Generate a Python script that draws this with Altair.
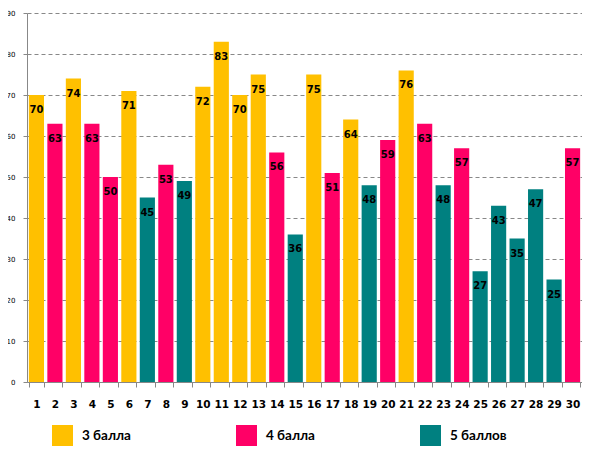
import altair as alt
import pandas as pd

days = [str(i) for i in range(1, 31)]
values = [70, 63, 74, 63, 50, 71, 45, 53, 49, 72, 83, 70, 75, 56, 36,
          75, 51, 64, 48, 59, 76, 63, 48, 57, 27, 43, 35, 47, 25, 57]
grade_codes = ["3", "4", "3", "4", "4", "3", "5", "4", "5", "3", "3", "3", "3", "4", "5",
               "3", "4", "3", "5", "4", "3", "4", "5", "4", "5", "5", "5", "5", "5", "4"]
grade_names = {"3": "3 балла", "4": "4 балла", "5": "5 баллов"}
legend_order = ["3 балла", "4 балла", "5 баллов"]
colors = ["#FFC000", "#FF0066", "#008080"]

df = pd.DataFrame({
    "day": days,
    "value": values,
    "grade": [grade_names[g] for g in grade_codes],
})

x = alt.X("day:N", sort=days, title=None,
          scale=alt.Scale(paddingInner=0.18, paddingOuter=0.1),
          axis=alt.Axis(labelAngle=0, tickBand="extent", labelPadding=12,
                        labelFont="DejaVu Sans", labelFontWeight="bold",
                        labelFontSize=10.5, labelColor="#000000",
                        tickSize=5, tickColor="#888888", domainColor="#888888",
                        grid=False))

bars = alt.Chart(df).mark_bar().encode(
    x=x,
    y=alt.Y("value:Q", title=None,
            scale=alt.Scale(domain=[0, 90], nice=False),
            axis=alt.Axis(values=list(range(0, 91, 10)), labelFontSize=7,
                          labelFont="DejaVu Sans", labelColor="#000000",
                          labelPadding=8, tickSize=4, tickColor="#888888",
                          domainColor="#888888", grid=True,
                          gridColor="#888888", gridDash=[4, 3], gridWidth=1)),
    color=alt.Color("grade:N",
                    scale=alt.Scale(domain=legend_order, range=colors),
                    legend=alt.Legend(title=None, orient="none", direction="horizontal",
                                      legendX=25, legendY=412,
                                      symbolType="square", symbolSize=441,
                                      symbolStrokeWidth=0, symbolOpacity=1,
                                      labelFont="Lato", labelFontWeight="bold",
                                      labelFontSize=13.5, labelColor="#000000",
                                      labelOffset=9, columnPadding=105)),
)

labels = alt.Chart(df).mark_text(
    baseline="middle", dy=15, font="DejaVu Sans", fontWeight="bold",
    fontSize=10, color="#000000"
).encode(
    x=alt.X("day:N", sort=days),
    y=alt.Y("value:Q"),
    text=alt.Text("value:Q"),
)

chart = alt.layer(bars, labels).properties(
    width=555, height=369,
    autosize=alt.AutoSizeParams(type="none"),
    padding={"left": 19, "top": 5, "right": 0, "bottom": 64},
).configure_view(stroke=None)

chart.save("out.html", embed_options={"renderer": "svg", "actions": False})
